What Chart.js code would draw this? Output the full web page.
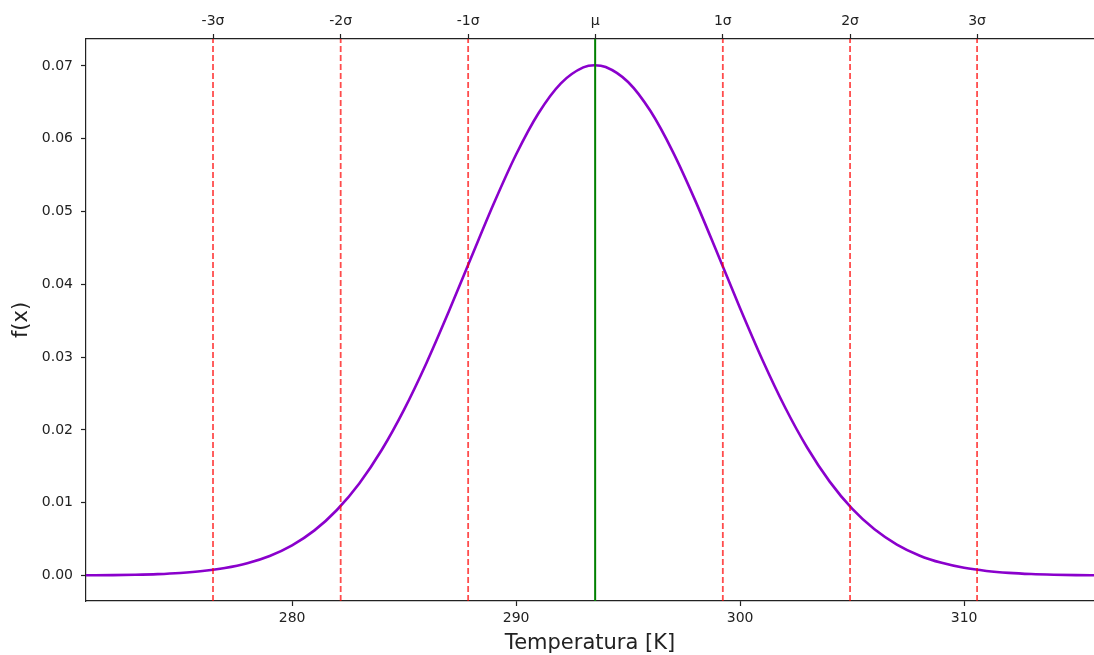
<!DOCTYPE html>
<html>
<head>
<meta charset="utf-8">
<title>Distribución normal de temperatura</title>
<script src="https://cdn.jsdelivr.net/npm/chart.js@4.4.1/dist/chart.umd.min.js"></script>
<style>
    html, body { margin: 0; padding: 0; background: #fff; }
    #wrap { width: 1094px; height: 655px; }
</style>
</head>
<body>
<div id="wrap"><canvas id="normal-chart" width="1094" height="655"></canvas></div>
<script>
// Temperatura [K] and density f(x)
var tempK = [270.8, 272, 273, 274, 275, 276, 277, 278, 279, 280, 281, 282, 283, 284, 285,
    286, 287, 288, 289, 290, 291, 292, 293, 293.5, 294, 295, 296, 297, 298, 299, 300,
    301, 302, 303, 304, 305, 306, 307, 308, 309, 310, 311, 312, 313, 314, 315, 316];
var density = [0.00003, 0.00005, 0.00010, 0.00019, 0.00035, 0.00061, 0.00103, 0.00169, 0.00269, 0.00415,
    0.00620, 0.00900, 0.01265, 0.01724, 0.02279, 0.02920, 0.03629, 0.04371, 0.05106, 0.05783,
    0.06350, 0.06761, 0.06980, 0.07010, 0.06986, 0.06780, 0.06380, 0.05820, 0.05150, 0.04416, 0.03672,
    0.02961, 0.02315, 0.01755, 0.01290, 0.00919, 0.00635, 0.00426, 0.00276, 0.00174, 0.00106,
    0.00063, 0.00036, 0.00020, 0.00011, 0.00006, 0.00003];

// mean and sigma markers
var sigmaLabels = ["-3σ", "-2σ", "-1σ", "μ", "1σ", "2σ", "3σ"];
var sigmaPos = [276.47, 282.17, 287.86, 293.53, 299.23, 304.91, 310.58];

var xTicks = [280, 290, 300, 310];
var yTicks = [0, 0.01, 0.02, 0.03, 0.04, 0.05, 0.06, 0.07];

var xMin = 270.8, xMax = 315.8;
var yMin = -0.0035, yMax = 0.0737;

var FONT = "'DejaVu Sans', sans-serif";
var INK = "#222";

// vertical marker lines, mean in green, sigmas in dashed red
var datasets = [];
sigmaPos.forEach(function (pos, i) {
    var isMean = sigmaLabels[i] === "μ";
    datasets.push({
        data: [{x: pos, y: yMin}, {x: pos, y: yMax}],
        borderColor: isMean ? "#008000" : "rgba(255, 0, 0, 0.7)",
        borderWidth: isMean ? 2 : 1.8,
        borderDash: isMean ? [] : [6, 3],
        pointRadius: 0,
        tension: 0,
        order: 0
    });
});

datasets.push({
    data: tempK.map(function (t, i) { return {x: t, y: density[i]}; }),
    borderColor: "#8a00cc",
    borderWidth: 2.6,
    pointRadius: 0,
    cubicInterpolationMode: "monotone",
    order: 1
});

function fixedSize(prop, size) {
    return function (scale) { scale[prop] = size; };
}

function fixedTicks(values) {
    return function (scale) {
        scale.ticks = values.map(function (v) { return {value: v}; });
    };
}

function tickGrid() {
    return {drawOnChartArea: false, tickLength: 5, tickColor: INK, tickWidth: 1.2};
}

function axisBorder() {
    return {display: true, color: INK, width: 1.2};
}

var ctx = document.getElementById("normal-chart").getContext("2d");
var normalChart = new Chart(ctx, {
    type: "line",
    data: {datasets: datasets},
    options: {
        responsive: false,
        devicePixelRatio: 1,
        animation: false,
        layout: {padding: 0},
        plugins: {
            legend: {display: false},
            tooltip: {enabled: false}
        },
        scales: {
            x: {
                type: "linear",
                position: "bottom",
                min: xMin,
                max: xMax,
                afterBuildTicks: fixedTicks(xTicks),
                afterFit: fixedSize("height", 54),
                grid: tickGrid(),
                border: axisBorder(),
                ticks: {
                    color: INK,
                    font: {family: FONT, size: 14},
                    padding: 4,
                    maxRotation: 0,
                    callback: function (v) { return v; }
                },
                title: {
                    display: true,
                    text: "Temperatura [K]",
                    color: INK,
                    font: {family: FONT, size: 21, lineHeight: 1.1},
                    padding: {top: 0, bottom: 0}
                }
            },
            xTop: {
                type: "linear",
                position: "top",
                min: xMin,
                max: xMax,
                afterBuildTicks: fixedTicks(sigmaPos),
                afterFit: fixedSize("height", 39),
                grid: tickGrid(),
                border: axisBorder(),
                ticks: {
                    color: INK,
                    font: {family: FONT, size: 14},
                    padding: 4,
                    maxRotation: 0,
                    callback: function (v, i) { return sigmaLabels[i]; }
                }
            },
            y: {
                type: "linear",
                position: "left",
                min: yMin,
                max: yMax,
                afterBuildTicks: fixedTicks(yTicks),
                afterFit: fixedSize("width", 86),
                grid: tickGrid(),
                border: axisBorder(),
                ticks: {
                    color: INK,
                    font: {family: FONT, size: 14},
                    padding: 8,
                    callback: function (v) { return v.toFixed(2); }
                },
                title: {
                    display: true,
                    text: "f(x)",
                    color: INK,
                    font: {family: FONT, size: 21},
                    padding: {top: 9, bottom: 0}
                }
            }
        }
    }
});
</script>
</body>
</html>
